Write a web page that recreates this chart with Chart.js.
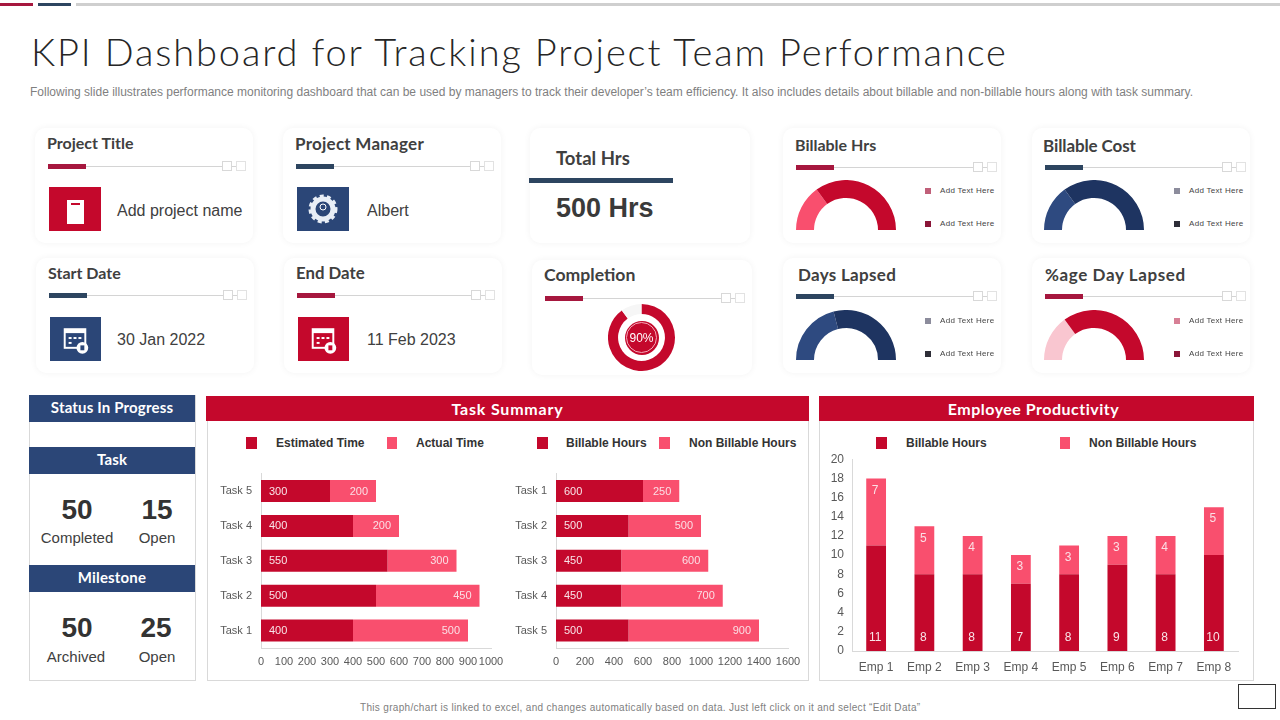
<!DOCTYPE html>
<html>
<head>
<meta charset="utf-8">
<title>KPI Dashboard for Tracking Project Team Performance</title>
<script src="https://cdn.jsdelivr.net/npm/chart.js@4"></script>
<style>
  html, body { margin: 0; padding: 0; background: #fff; }
  #page { position: relative; width: 1280px; height: 720px; overflow: hidden; font-family: "Liberation Sans", Arial, sans-serif; color: #404040; }
  #page > * { position: absolute; }
  .txt { white-space: nowrap; line-height: 1; transform: translateY(-50%); }
  .head { font-family: Lato, sans-serif; font-weight: 700; font-size: 16px; color: #404040; }
  .card { background: #fff; border-radius: 10px; box-shadow: 0 0 7px rgba(0,0,0,0.05); }
  .band { color: #fff; text-align: center; font-family: Lato, sans-serif; font-weight: 700; font-size: 16px; display: flex; align-items: center; justify-content: center; letter-spacing: 0.5px; box-sizing: border-box; }
  .navy { font-size: 15px; letter-spacing: 0.17px; padding-bottom: 3px; }
  .panel { border: 1px solid #d9d9d9; box-sizing: border-box; background: #fff; }
  .leg { font-weight: 700; font-size: 12px; color: #333; }
  .tiny { font-size: 8px; letter-spacing: 0.3px; color: #444; }
  canvas { display: block; }
</style>
</head>
<body>
<div id="page"></div>
<script>
// index.js
// Chart data
const leftTasks = ["Task 5", "Task 4", "Task 3", "Task 2", "Task 1"];
const estimatedTime = [300, 400, 550, 500, 400];
const actualTime = [200, 200, 300, 450, 500];
const leftTicksMax = 1000;
const leftTicksStep = 100;

const rightTasks = ["Task 1", "Task 2", "Task 3", "Task 4", "Task 5"];
const taskBillable = [600, 500, 450, 450, 500];
const taskNonBillable = [250, 500, 600, 700, 900];
const rightTicksMax = 1600;
const rightTicksStep = 200;

const employees = ["Emp 1", "Emp 2", "Emp 3", "Emp 4", "Emp 5", "Emp 6", "Emp 7", "Emp 8"];
const empBillable = [11, 8, 8, 7, 8, 9, 8, 10];
const empNonBillable = [7, 5, 4, 3, 3, 3, 4, 5];
const empTicksMax = 20;
const empTicksStep = 2;

const billableHrsShare = [30, 70];
const billableCostShare = [30, 70];
const daysLapsedShare = [42, 58];
const ageDayLapsedShare = [30, 70];
const completionShare = [90, 10];

// Colours
const RED = "#c4082c";
const PINK = "#f94f6e";
const NAVY = "#2b4677";
const DARKNAVY = "#1e3461";
const TICK = "#595959";
const AXIS = "#d9d9d9";

const page = document.getElementById("page");

// Functions
/**
 * Appends an absolutely placed box to the page.
 */
function box(x, y, w, h, color, cls){
  let el = document.createElement("div");
  el.style.cssText = `left:${x}px;top:${y}px;width:${w}px;height:${h}px;` + (color ? `background:${color};` : "");
  if(cls){el.className = cls;}
  page.appendChild(el);
  return el;
}

/**
 * Appends a line of text, y is the vertical middle of the text.
 */
function text(str, x, y, cls, style){
  let el = document.createElement("div");
  el.className = "txt " + (cls || "");
  el.textContent = str;
  el.style.cssText = `left:${x}px;top:${y}px;` + (style || "");
  page.appendChild(el);
  return el;
}

/**
 * Text centered around x.
 */
function centered(str, x, y, style){
  return text(str, x, y, "", `transform:translate(-50%,-50%);` + style);
}

/**
 * The heading rule of a card: thick stub, thin line, two little squares.
 */
function rule(x, y, endX, color){
  box(x + 38, y - 0.5, endX - x - 38, 1, "#d4d4d4");
  box(x, y - 2.5, 38, 5, color);
  let sq1 = box(endX, y - 5, 8, 8, "#fff");
  sq1.style.border = "1px solid #d8d8d8";
  box(endX + 10, y - 0.5, 4, 1, "#d4d4d4");
  let sq2 = box(endX + 14, y - 5, 8, 8, "#fff");
  sq2.style.border = "1px solid #e2e2e2";
}

/**
 * Icon tile with a little white svg drawn in it.
 */
function icon(x, y, w, h, color, svgInner){
  let el = box(x, y, w, h, color);
  el.innerHTML = `<svg width="${w}" height="${h}" viewBox="0 0 52 44">${svgInner}</svg>`;
}

const docIcon = '<rect x="18" y="13" width="17" height="24" fill="#fff"/><rect x="22" y="16" width="9" height="2" fill="#c4082c"/>';
const gearIcon = '<circle cx="26" cy="22" r="10" fill="none" stroke="#e8eef6" stroke-width="5"/><circle cx="26" cy="22" r="13" fill="none" stroke="#e8eef6" stroke-width="3" stroke-dasharray="4 3.2"/><circle cx="26" cy="20" r="3" fill="none" stroke="#fff" stroke-width="1"/>';
function calendarIcon(color, mark){
  return `<rect x="15" y="12" width="21" height="19" fill="none" stroke="#fff" stroke-width="2"/><rect x="15" y="12" width="21" height="4" fill="#fff"/>` +
    `<rect x="19" y="20" width="3" height="2" fill="#fff"/><rect x="24" y="20" width="3" height="2" fill="#fff"/><rect x="29" y="20" width="3" height="2" fill="#fff"/><rect x="19" y="25" width="3" height="2" fill="#fff"/>` +
    `<circle cx="33" cy="31" r="6" fill="#fff"/><rect x="31" y="28.5" width="4" height="5" fill="${color}"/>` + (mark || "");
}

/**
 * Adds a canvas at the given place and returns it.
 */
function addCanvas(x, y, w, h){
  let c = document.createElement("canvas");
  c.width = w;
  c.height = h;
  c.style.cssText = `left:${x}px;top:${y}px;width:${w}px;height:${h}px;`;
  page.appendChild(c);
  return c;
}

/**
 * Writes the values on top of the stacked bars. First series sits at the base of
 * the bar, second series at the far end.
 */
const barLabels = {
  id: "barLabels",
  afterDatasetsDraw(chart){
    const ctx = chart.ctx;
    const horizontal = chart.options.indexAxis === "y";
    ctx.save();
    ctx.font = (horizontal ? "11px" : "12px") + ' "Liberation Sans", Arial, sans-serif';
    ctx.textBaseline = "middle";
    chart.data.datasets.forEach((ds, d) => {
      chart.getDatasetMeta(d).data.forEach((bar, i) => {
        ctx.fillStyle = d == 0 ? "#f8e4e8" : "#fbdfe5";
        if(horizontal){
          ctx.textAlign = d == 0 ? "left" : "right";
          ctx.fillText(ds.data[i], d == 0 ? bar.base + 8 : bar.x - 8, bar.y + 0.5);
        }else{
          ctx.textAlign = "center";
          ctx.fillText(ds.data[i], bar.x - 1, d == 0 ? bar.base - 13 : bar.y + 12);
        }
      });
    });
    ctx.restore();
  }
};

/**
 * Stacked bar chart with two series.
 */
function stackedChart(canvas, opts){
  const font = {family: '"Liberation Sans", Arial, sans-serif', size: opts.fontSize};
  const valueAxis = {
    stacked: true,
    min: 0,
    max: opts.max,
    grid: {display: false},
    border: {display: true, color: AXIS},
    ticks: {stepSize: opts.step, color: TICK, font: font, padding: opts.valuePad, autoSkip: false, maxRotation: 0, callback: (v) => String(v)},
    afterFit: opts.horizontal ? (s) => { s.height = 28; } : (s) => { s.width = opts.axisWidth; }
  };
  const catAxis = {
    stacked: true,
    grid: {display: false},
    border: {display: true, color: AXIS},
    ticks: {color: TICK, font: font, padding: opts.catPad, autoSkip: false, maxRotation: 0},
    afterFit: opts.horizontal ? (s) => { s.width = opts.axisWidth; } : (s) => { s.height = 28; }
  };
  return new Chart(canvas, {
    type: "bar",
    plugins: [barLabels],
    data: {
      labels: opts.labels,
      datasets: [
        {label: opts.names[0], data: opts.first, backgroundColor: RED, barPercentage: opts.barPercentage, categoryPercentage: 1},
        {label: opts.names[1], data: opts.second, backgroundColor: PINK, barPercentage: opts.barPercentage, categoryPercentage: 1}
      ]
    },
    options: {
      responsive: false,
      animation: false,
      indexAxis: opts.horizontal ? "y" : "x",
      layout: {padding: opts.padding},
      plugins: {legend: {display: false}, tooltip: {enabled: false}},
      scales: opts.horizontal ? {x: valueAxis, y: catAxis} : {x: catAxis, y: valueAxis}
    }
  });
}

/**
 * Half ring gauge, canvas bottom edge is the flat side of the gauge.
 */
function gauge(x, bottom, shares, colors){
  let canvas = addCanvas(x, bottom - 50, 100, 50);
  new Chart(canvas, {
    type: "doughnut",
    data: {datasets: [{data: shares, backgroundColor: colors, borderWidth: 0}]},
    options: {
      responsive: false,
      animation: false,
      rotation: -90,
      circumference: 180,
      cutout: "64%",
      plugins: {legend: {display: false}, tooltip: {enabled: false}}
    }
  });
}

/**
 * A gauge card: heading, rule, half ring and the two small legend rows.
 */
function gaugeCard(x, y, title, titleX, titleY, titleStyle, ruleColor, ruleY, gaugeX, shares, colors, markers){
  box(x, y, 218, 115, "", "card");
  text(title, titleX, titleY, "head", titleStyle);
  rule(x + 13, ruleY, x + 190, ruleColor);
  gauge(gaugeX, y + 102, shares, colors);
  box(x + 142, y + 60, 6, 6, markers[0]);
  box(x + 142, y + 93, 6, 6, markers[1]);
  text("Add Text Here", x + 157, y + 63, "tiny");
  text("Add Text Here", x + 157, y + 96, "tiny");
}

function drawHeader(){
  box(0, 3, 33, 3, "#a6173e");
  box(38, 3, 33, 3, "#2d4560");
  box(76, 3, 1204, 3, "#cfcfcf");
  text("KPI Dashboard for Tracking Project Team Performance", 31, 51, "", "font-family:Lato,sans-serif;font-weight:300;font-size:38px;color:#262626;letter-spacing:1.87px;");
  text("Following slide illustrates performance monitoring dashboard that can be used by managers to track their developer\u2019s team efficiency. It also includes details about billable and non-billable hours along with task summary.", 30, 92, "", "font-size:12px;color:#7f7f7f;letter-spacing:0.007px;");
}

function drawCards(){
  // Project title, manager, dates
  box(35, 128, 218, 115, "", "card");
  text("Project Title", 47, 143, "head");
  rule(48, 166, 222, "#a6173e");
  icon(49, 187, 52, 44, RED, docIcon);
  text("Add project name", 117, 211, "", "font-size:16px;");

  box(283, 128, 218, 115, "", "card");
  text("Project Manager", 295, 143, "head", "font-size:17px;letter-spacing:0.25px;");
  rule(296, 166, 470, "#2d4560");
  icon(297, 187, 52, 44, NAVY, gearIcon);
  text("Albert", 367, 211, "", "font-size:16px;");

  box(36, 258, 218, 115, "", "card");
  text("Start Date", 48, 273, "head");
  rule(48.5, 295, 223, "#2d4560");
  icon(50, 317, 51, 44, NAVY, calendarIcon(NAVY));
  text("30 Jan 2022", 117, 340, "", "font-size:16px;");

  box(284, 258, 218, 115, "", "card");
  text("End Date", 296, 273, "head", "font-size:16.8px;");
  rule(297, 295, 471, "#a6173e");
  icon(298, 317, 51, 44, RED, calendarIcon(RED));
  text("11 Feb 2023", 367, 340, "", "font-size:16px;");

  // Total hours
  box(530, 128, 220, 115, "", "card");
  text("Total Hrs", 556, 158, "head", "font-size:18.5px;");
  box(529, 178, 144, 5, "#2d4560");
  text("500 Hrs", 556, 208, "", "font-size:27px;font-weight:700;color:#3a3a3a;");

  // Completion
  box(532, 260, 220, 115, "", "card");
  text("Completion", 544, 275, "head", "font-size:17.6px;");
  rule(545, 298, 721, "#a6173e");
  let completion = addCanvas(608, 304, 67, 67);
  new Chart(completion, {
    type: "doughnut",
    data: {datasets: [{data: completionShare, backgroundColor: [RED, "#f6f6f6"], borderWidth: 0}]},
    options: {
      responsive: false,
      animation: false,
      cutout: "70%",
      plugins: {legend: {display: false}, tooltip: {enabled: false}}
    }
  });
  let disc = box(624.5, 320.5, 34, 34, RED);
  disc.style.borderRadius = "50%";
  let ringInner = box(626, 322, 29, 29, "");
  ringInner.style.cssText += "border:1px solid #f4a8b8;border-radius:50%;";
  centered("90%", 641.5, 338, "font-size:12px;color:#fff;");

  // Gauge cards
  gaugeCard(783, 128, "Billable Hrs", 795, 145, "", "#a6173e", 167, 796, billableHrsShare, [PINK, RED], ["#c05f79", "#8a1538"]);
  gaugeCard(1032, 128, "Billable Cost", 1043, 145, "font-size:17px;letter-spacing:-0.1px;", "#2d4560", 167, 1044, billableCostShare, ["#2e4a80", DARKNAVY], ["#8c8c9c", "#2e2e38"]);
  gaugeCard(783, 258, "Days Lapsed", 798, 274, "font-size:17px;letter-spacing:0.3px;", "#2d4560", 296, 796, daysLapsedShare, ["#2e4a80", DARKNAVY], ["#8c8c9c", "#2e2e38"]);
  gaugeCard(1032, 258, "%age Day Lapsed", 1045, 274, "font-size:17px;letter-spacing:0.6px;", "#a6173e", 296, 1044, ageDayLapsedShare, ["#f9c6d0", RED], ["#d77f95", "#8a1538"]);
}

function drawStatus(){
  box(29, 395, 167, 286, "", "panel");
  let b1 = box(29, 395, 166, 27, NAVY, "band navy");
  b1.textContent = "Status In Progress";
  let b2 = box(29, 447, 166, 27, NAVY, "band navy");
  b2.textContent = "Task";
  let b3 = box(29, 565, 166, 27, NAVY, "band navy");
  b3.textContent = "Milestone";

  const big = "font-size:28px;font-weight:700;color:#333;";
  const small = "font-size:15px;color:#404040;";
  centered("50", 77, 510, big);
  centered("15", 157, 510, big);
  centered("Completed", 77, 537, small);
  centered("Open", 157, 537, small);
  centered("50", 77, 628, big);
  centered("25", 156, 628, big);
  centered("Archived", 76, 656, small);
  centered("Open", 157, 656, small);
}

function legendItem(name, markerX, markerW, textX, color){
  box(markerX, 437, markerW, 12, color);
  text(name, textX, 443, "leg");
}

function drawTaskSummary(){
  box(207, 410, 602, 271, "", "panel");
  let band = box(206, 396, 603, 25, RED, "band");
  band.textContent = "Task Summary";
  band.style.letterSpacing = "0.8px";

  legendItem("Estimated Time", 245.5, 11, 276, RED);
  legendItem("Actual Time", 387, 10, 416, PINK);
  legendItem("Billable Hours", 537, 11, 566, RED);
  legendItem("Non Billable Hours", 659, 11, 689, PINK);

  stackedChart(addCanvas(211, 466, 300, 210), {
    horizontal: true, labels: leftTasks, names: ["Estimated Time", "Actual Time"],
    first: estimatedTime, second: actualTime, max: leftTicksMax, step: leftTicksStep,
    fontSize: 11, barPercentage: 0.63, axisWidth: 50, catPad: 1, valuePad: -1,
    padding: {top: 1, right: 20}
  });
  stackedChart(addCanvas(506, 466, 300, 210), {
    horizontal: true, labels: rightTasks, names: ["Billable Hours", "Non Billable Hours"],
    first: taskBillable, second: taskNonBillable, max: rightTicksMax, step: rightTicksStep,
    fontSize: 11, barPercentage: 0.63, axisWidth: 50, catPad: 1, valuePad: -1,
    padding: {top: 1, right: 18}
  });
}

function drawEmployees(){
  box(819, 410, 435, 271, "", "panel");
  let band = box(819, 396, 435, 25, RED, "band");
  band.textContent = "Employee Productivity";
  band.style.paddingRight = "6px";

  legendItem("Billable Hours", 876, 11, 906, RED);
  legendItem("Non Billable Hours", 1060, 10, 1089, PINK);

  stackedChart(addCanvas(812, 452, 440, 227), {
    horizontal: false, labels: employees, names: ["Billable Hours", "Non Billable Hours"],
    first: empBillable, second: empNonBillable, max: empTicksMax, step: empTicksStep,
    fontSize: 12, barPercentage: 0.41, axisWidth: 40, catPad: 1, valuePad: 0,
    padding: {top: 5, right: 14}
  });
}

function drawFooter(){
  text("This graph/chart is linked to excel, and changes automatically based on data. Just left click on it and select \u201cEdit Data\u201d", 360, 708, "", "font-size:10px;color:#808080;letter-spacing:0.32px;");
  let frame = box(1238, 684, 36, 23, "#fff");
  frame.style.border = "1px solid #333";
}

document.addEventListener("DOMContentLoaded", function() {
  drawHeader();
  drawCards();
  drawStatus();
  drawTaskSummary();
  drawEmployees();
  drawFooter();
});
</script>
</body>
</html>
